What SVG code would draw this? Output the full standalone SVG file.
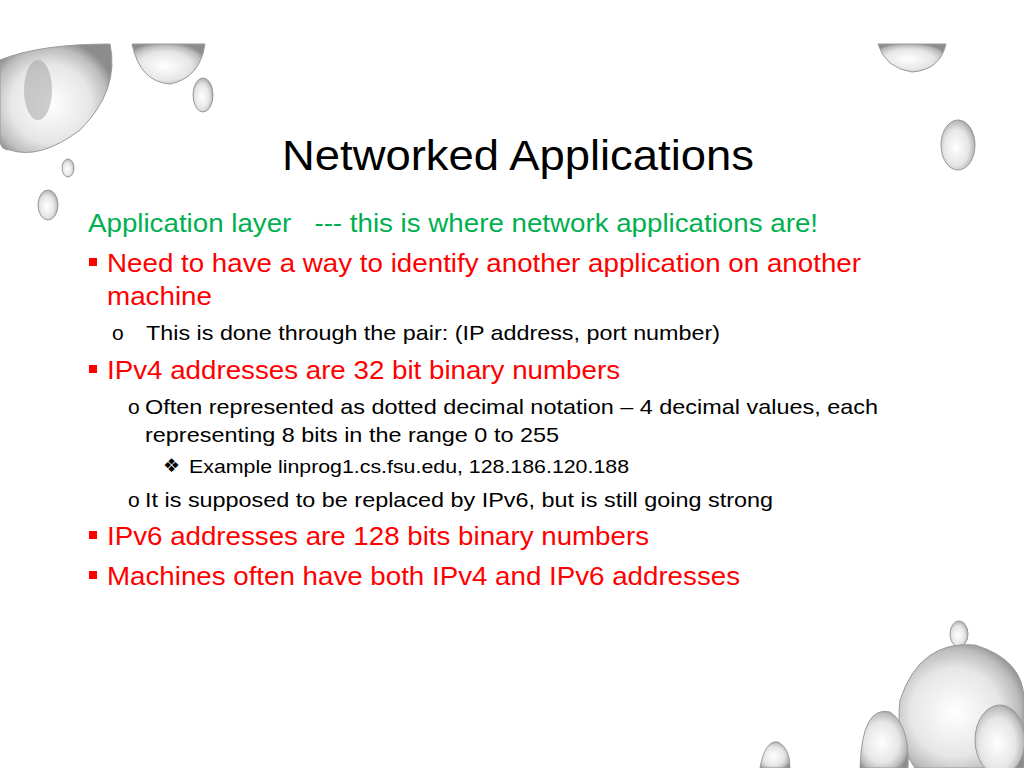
<svg xmlns="http://www.w3.org/2000/svg" width="1024" height="768" viewBox="0 0 1024 768">
<defs>
<radialGradient id="drop" cx="0.45" cy="0.55" r="0.6">
<stop offset="0" stop-color="#ffffff"/><stop offset="0.6" stop-color="#e6e6e6"/><stop offset="0.85" stop-color="#bdbdbd"/><stop offset="1" stop-color="#8c8c8c"/>
</radialGradient>
<style>
.t{font-family:"Liberation Sans",Arial,sans-serif}
.g{fill:#00B050;font-size:26px}
.r{fill:#FF0000;font-size:26px}
.k{fill:#000;font-size:21px}
.s{fill:#000;font-size:19px}
.d{fill:url(#drop);stroke:#9a9a9a;stroke-width:1}
</style>
</defs>
<rect width="1024" height="768" fill="#fff"/>
<g id="drops">
<path class="d" d="M0 60 Q40 44 110 44 Q120 90 80 130 Q40 160 10 150 Q0 150 0 140 Z"/>
<ellipse cx="38" cy="90" rx="14" ry="30" fill="#9e9e9e" opacity="0.5"/>
<path class="d" d="M132 44 L205 44 Q200 78 170 84 Q140 82 132 44 Z"/>
<ellipse class="d" cx="203" cy="95" rx="10" ry="17"/>
<ellipse class="d" cx="68" cy="168" rx="6" ry="9"/>
<ellipse class="d" cx="48" cy="205" rx="10" ry="15"/>
<path class="d" d="M878 44 L946 44 Q940 70 912 72 Q885 68 878 44 Z"/>
<ellipse class="d" cx="958" cy="145" rx="17" ry="25"/>
<ellipse class="d" cx="959" cy="634" rx="9" ry="13"/>
<path class="d" d="M900 700 Q920 640 975 645 Q1024 660 1024 700 L1024 768 L915 768 Q895 740 900 700 Z"/>
<ellipse class="d" cx="1000" cy="740" rx="25" ry="35"/>
<path class="d" d="M860 768 Q862 705 890 712 Q910 725 908 768 Z"/>
<path class="d" d="M760 768 Q765 740 778 742 Q790 748 790 768 Z"/>
</g>
<g id="content" class="t">
<text x="282" y="170" font-size="42" fill="#000" textLength="472" lengthAdjust="spacingAndGlyphs">Networked Applications</text>
<text class="g" x="88" y="232" textLength="730" lengthAdjust="spacingAndGlyphs" xml:space="preserve">Application layer   --- this is where network applications are!</text>
<rect x="89" y="258" width="8" height="8" fill="#FF0000"/>
<text class="r" x="107" y="272" textLength="754" lengthAdjust="spacingAndGlyphs">Need to have a way to identify another application on another</text>
<text class="r" x="107" y="305" textLength="105" lengthAdjust="spacingAndGlyphs">machine</text>
<text class="k" x="112" y="340">o</text>
<text class="k" x="146" y="340" textLength="574" lengthAdjust="spacingAndGlyphs">This is done through the pair: (IP address, port number)</text>
<rect x="89" y="365" width="8" height="8" fill="#FF0000"/>
<text class="r" x="107" y="379" textLength="513" lengthAdjust="spacingAndGlyphs">IPv4 addresses are 32 bit binary numbers</text>
<text class="k" x="128" y="414">o</text>
<text class="k" x="145" y="414" textLength="733" lengthAdjust="spacingAndGlyphs">Often represented as dotted decimal notation – 4 decimal values, each</text>
<text class="k" x="145" y="442" textLength="414" lengthAdjust="spacingAndGlyphs">representing 8 bits in the range 0 to 255</text>
<text class="s" x="163" y="472" font-family="DejaVu Sans,sans-serif" font-size="16">❖</text>
<text class="s" x="189" y="473" textLength="440" lengthAdjust="spacingAndGlyphs">Example linprog1.cs.fsu.edu, 128.186.120.188</text>
<text class="k" x="128" y="507">o</text>
<text class="k" x="145" y="507" textLength="628" lengthAdjust="spacingAndGlyphs">It is supposed to be replaced by IPv6, but is still going strong</text>
<rect x="89" y="531" width="8" height="8" fill="#FF0000"/>
<text class="r" x="107" y="545" textLength="542" lengthAdjust="spacingAndGlyphs">IPv6 addresses are 128 bits binary numbers</text>
<rect x="89" y="571" width="8" height="8" fill="#FF0000"/>
<text class="r" x="107" y="585" textLength="633" lengthAdjust="spacingAndGlyphs">Machines often have both IPv4 and IPv6 addresses</text>
</g>
</svg>
